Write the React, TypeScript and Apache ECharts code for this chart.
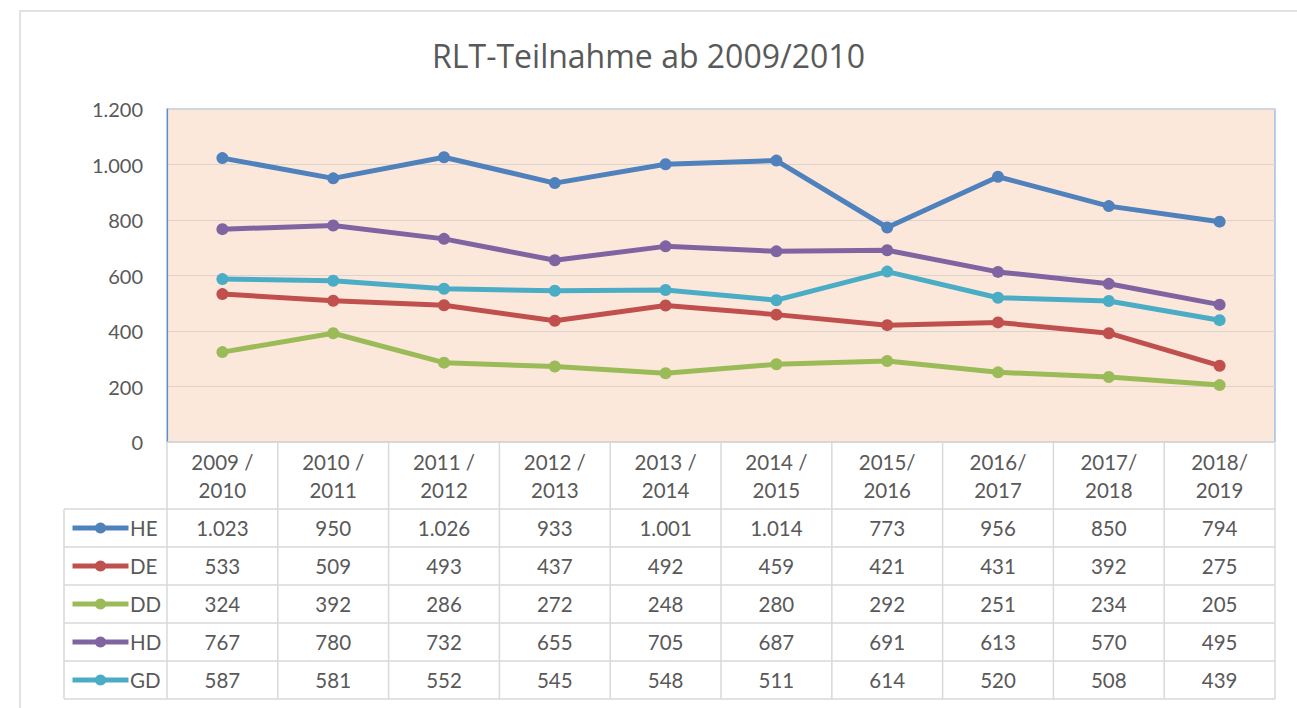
import React, { useEffect, useRef } from "react";
import * as echarts from "echarts";

const title = "RLT-Teilnahme ab 2009/2010";
const categories = [
  "2009 /\n2010", "2010 /\n2011", "2011 /\n2012", "2012 /\n2013", "2013 /\n2014",
  "2014 /\n2015", "2015/\n2016", "2016/\n2017", "2017/\n2018", "2018/\n2019",
];
const seriesNames = ["HE", "DE", "DD", "HD", "GD"];
const HE = [1023, 950, 1026, 933, 1001, 1014, 773, 956, 850, 794];
const DE = [533, 509, 493, 437, 492, 459, 421, 431, 392, 275];
const DD = [324, 392, 286, 272, 248, 280, 292, 251, 234, 205];
const HD = [767, 780, 732, 655, 705, 687, 691, 613, 570, 495];
const GD = [587, 581, 552, 545, 548, 511, 614, 520, 508, 439];
const seriesValues = [HE, DE, DD, HD, GD];
const colors = ["#4F81BD", "#C0504D", "#9BBB59", "#8064A2", "#4BACC6"];
const yTicks = { min: 0, max: 1200, interval: 200 };

const fmt = (n: number) => String(n).replace(/\B(?=(\d{3})+(?!\d))/g, ".");

export default function App() {
  const ref = useRef<HTMLDivElement>(null);
  useEffect(() => {
    if (!ref.current) return;
    const chart = echarts.init(ref.current, null, { renderer: "svg" });
    const font = "Lato";
    const textColor = "#595959";
    const gridLeft = 167, gridTop = 109, gridW = 1108, gridH = 333;
    const gridBottomY = gridTop + gridH;
    const headerH = 67, rowH = 38;
    const colW = gridW / categories.length;
    const tableLine = "#D9D9D9";
    const tableFont = 20.5;
    const labelMargin = 9;

    const graphics: any[] = [];
    graphics.push({
      type: "rect", shape: { x: 20, y: 11, width: 1290, height: 720 },
      style: { fill: "none", stroke: "#D9D9D9", lineWidth: 1.5 }, silent: true,
    });
    graphics.push({ type: "line", shape: { x1: gridLeft, y1: gridBottomY, x2: gridLeft + gridW, y2: gridBottomY }, style: { stroke: tableLine, lineWidth: 1.5 }, z: 10 });
    for (let i = 0; i <= seriesNames.length; i++) {
      const y = gridBottomY + headerH + rowH * i;
      graphics.push({ type: "line", shape: { x1: 64, y1: y, x2: gridLeft + gridW, y2: y }, style: { stroke: tableLine, lineWidth: 1.5 } });
    }
    const tableBottom = gridBottomY + headerH + rowH * seriesNames.length;
    graphics.push({ type: "line", shape: { x1: 64, y1: gridBottomY + headerH, x2: 64, y2: tableBottom }, style: { stroke: tableLine, lineWidth: 1.5 } });
    for (let k = 0; k <= categories.length; k++) {
      const x = gridLeft + colW * k;
      graphics.push({ type: "line", shape: { x1: x, y1: gridBottomY + (k === 0 ? 0 : 1), x2: x, y2: tableBottom }, style: { stroke: tableLine, lineWidth: 1.5 } });
    }
    // series names in the legend column of the table
    seriesNames.forEach((name, i) => {
      graphics.push({
        type: "text", x: 130, y: gridBottomY + headerH + rowH * i + labelMargin,
        style: { text: name, fill: textColor, fontSize: tableFont, fontFamily: font, lineHeight: 20, verticalAlign: "top", align: "left" },
      });
    });

    const xAxes: any[] = [
      {
        type: "category", data: categories, gridIndex: 0, position: "bottom",
        axisLine: { show: false }, axisTick: { show: false },
        axisLabel: { color: textColor, fontSize: tableFont, fontFamily: font, lineHeight: 28, margin: 6, interval: 0 },
      },
    ];
    seriesValues.forEach((vals, i) => {
      xAxes.push({
        type: "category", data: vals.map(fmt), gridIndex: 0, position: "bottom",
        offset: headerH + rowH * i,
        axisLine: { show: false }, axisTick: { show: false },
        axisLabel: { color: textColor, fontSize: tableFont, fontFamily: font, lineHeight: 20, margin: labelMargin, interval: 0 },
      });
    });

    const legends = seriesNames.map((name, i) => ({
      data: [name], orient: "vertical", left: 70,
      top: gridBottomY + headerH + rowH * i + rowH / 2 - 7,
      padding: 0, itemWidth: 56, itemHeight: 14,
      lineStyle: { width: 5 },
      formatter: () => "",
      selectedMode: false,
    }));

    chart.setOption({
      animation: false,
      backgroundColor: "#ffffff",
      title: {
        text: title, left: "center", top: 34,
        textStyle: { color: textColor, fontSize: 32, fontWeight: "normal", fontFamily: "Open Sans" },
      },
      legend: legends,
      grid: {
        left: gridLeft, top: gridTop, width: gridW, height: gridH,
        show: true, backgroundColor: "#FCE8DA", borderColor: "#8DB3E2", borderWidth: 1.2,
      },
      xAxis: xAxes,
      yAxis: {
        type: "value", min: yTicks.min, max: yTicks.max, interval: yTicks.interval,
        axisLine: { show: true, lineStyle: { color: "#5B8FD0", width: 1.2 } },
        axisTick: { show: false },
        splitLine: { lineStyle: { color: "#DCD3CC", width: 1.2 } },
        axisLabel: { color: textColor, fontSize: 20, fontFamily: font, margin: 24, formatter: (v: number) => fmt(v) },
      },
      series: seriesNames.map((name, i) => ({
        name, type: "line", data: seriesValues[i], xAxisIndex: 0,
        symbol: "circle", symbolSize: 12,
        lineStyle: { color: colors[i], width: 5 },
        itemStyle: { color: colors[i] },
        z: 5,
      })),
      graphic: graphics,
    });
    return () => chart.dispose();
  }, []);
  return <div ref={ref} style={{ position: "absolute", left: 0, top: 0, width: 1297, height: 708 }} />;
}
